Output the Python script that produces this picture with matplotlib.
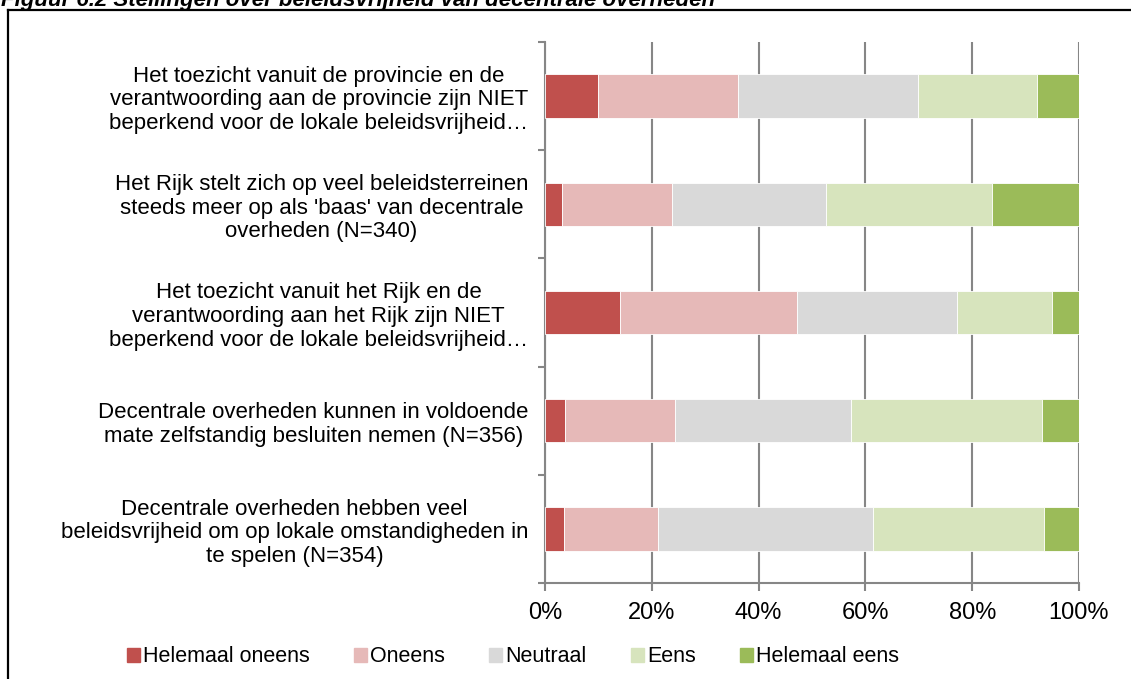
import matplotlib
matplotlib.use('Agg')
import matplotlib.pyplot as plt
from matplotlib.lines import Line2D
from matplotlib.ticker import FuncFormatter
import numpy as np

plt.rcParams['font.family'] = ['Liberation Sans', 'DejaVu Sans']

statements = [
    "Het toezicht vanuit de provincie en de\nverantwoording aan de provincie zijn NIET\nbeperkend voor de lokale beleidsvrijheid…",
    "Het Rijk stelt zich op veel beleidsterreinen\nsteeds meer op als 'baas' van decentrale\noverheden (N=340)",
    "Het toezicht vanuit het Rijk en de\nverantwoording aan het Rijk zijn NIET\nbeperkend voor de lokale beleidsvrijheid…",
    "Decentrale overheden kunnen in voldoende\nmate zelfstandig besluiten nemen (N=356)",
    "Decentrale overheden hebben veel\nbeleidsvrijheid om op lokale omstandigheden in\nte spelen (N=354)",
]
answers = ['Helemaal oneens', 'Oneens', 'Neutraal', 'Eens', 'Helemaal eens']

# percentages per statement, same order as answers
helemaal_oneens = [9.9, 3.1, 14.1, 3.8, 3.5]
oneens = [26.2, 20.6, 33.1, 20.5, 17.6]
neutraal = [33.7, 29.0, 29.9, 33.0, 40.4]
eens = [22.4, 31.1, 17.8, 35.7, 32.0]
helemaal_eens = [7.8, 16.2, 5.1, 7.0, 6.5]

colors = ['#C0504D', '#E6B9B8', '#D9D9D9', '#D7E4BD', '#9BBB59']

series = [helemaal_oneens, oneens, neutraal, eens, helemaal_eens]

fig = plt.figure(figsize=(11.31, 6.79), dpi=100)
W, H = 1131, 679
ax = fig.add_axes([545 / W, 1 - 583 / H, (1079 - 545) / W, (583 - 42) / H])

y = np.arange(len(statements))[::-1]
left = np.zeros(len(statements))
for vals, name, col in zip(series, answers, colors):
    vals = np.array(vals) / 100.0
    ax.barh(y, vals, left=left, height=0.4, color=col, label=name,
            edgecolor='white', linewidth=0.6, zorder=3)
    left += vals

grid_col = '#868686'
ax.set_xlim(0, 1)
ax.set_ylim(-0.5, len(statements) - 0.5)
ax.set_xticks(np.linspace(0, 1, 6))
ax.xaxis.set_major_formatter(FuncFormatter(lambda v, p: f"{v * 100:.0f}%"))
ax.grid(axis='x', color=grid_col, linewidth=1.5, zorder=0)
ax.set_axisbelow(True)

ax.set_yticks(y)
ax.set_yticklabels(statements, multialignment='center', linespacing=1.17)
ax.set_yticks(np.arange(-0.5, len(statements)), minor=True)
ax.tick_params(axis='y', which='major', length=0, pad=12, labelsize=16)
ax.tick_params(axis='y', which='minor', length=5, width=1.5, color=grid_col)
ax.tick_params(axis='x', length=6, width=1.5, color=grid_col, labelsize=17, pad=8)

for s in ['top', 'right']:
    ax.spines[s].set_visible(False)
for s in ['left', 'bottom']:
    ax.spines[s].set_color(grid_col)
    ax.spines[s].set_linewidth(1.5)

handles = [plt.Rectangle((0, 0), 1, 1, color=c) for c in colors]
fig.legend(handles, answers, loc='center', bbox_to_anchor=(513 / W, 1 - 657 / H),
           ncol=5, frameon=False, fontsize=15.5, handlelength=0.6, handleheight=0.6,
           handletextpad=0.15, columnspacing=2.05, borderaxespad=0)

# border around the chart (clipped on the right and bottom)
fig.add_artist(Line2D([7.5 / W, 1.01], [1 - 10 / H, 1 - 10 / H],
                      transform=fig.transFigure, color='black', linewidth=1.6))
fig.add_artist(Line2D([7.5 / W, 7.5 / W], [-0.01, 1 - 10 / H],
                      transform=fig.transFigure, color='black', linewidth=1.6))

# title, only its lower part is inside the image
fig.text(1 / W, 1 - 6 / H, "Figuur 6.2 Stellingen over beleidsvrijheid van decentrale overheden",
         fontsize=16, fontweight='bold', fontstyle='italic', va='baseline', ha='left')

plt.savefig('out.png', dpi=100)
